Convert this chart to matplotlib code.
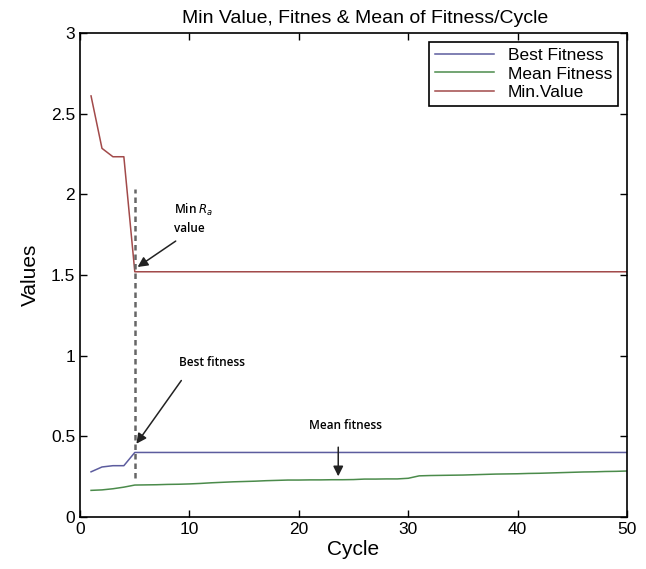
import numpy as np
import matplotlib
matplotlib.use("Agg")
import matplotlib.pyplot as plt

plt.rcParams["font.family"] = ["Liberation Sans", "DejaVu Sans"]

cycles = np.arange(1, 51)

min_value = [2.61, 2.285, 2.233, 2.233] + [1.52] * 46

best_fitness = [0.28, 0.31, 0.318, 0.318] + [0.40] * 46

mean_fitness = [
    0.165, 0.168, 0.175, 0.185, 0.198,
    0.199, 0.200, 0.202, 0.203,
    0.205, 0.208, 0.212, 0.215, 0.218,
    0.220, 0.222, 0.225, 0.227, 0.229, 0.229,
    0.230, 0.230, 0.231, 0.231, 0.232,
    0.235, 0.235, 0.236, 0.236,
    0.240,
    0.255,
    0.257, 0.258, 0.259, 0.260, 0.262, 0.264,
    0.266, 0.267, 0.268, 0.270, 0.271, 0.273, 0.275, 0.277,
    0.279, 0.280, 0.282, 0.283, 0.285,
]

fig = plt.figure(figsize=(6.46, 5.69), dpi=100)
ax = fig.add_axes([0.124, 0.0914, 0.8466, 0.8506])

ax.plot(cycles, best_fitness, color="#5c5c9e", lw=1.1, label="Best Fitness")
ax.plot(cycles, mean_fitness, color="#4b8b4b", lw=1.1, label="Mean Fitness")
ax.plot(cycles, min_value, color="#a24a4a", lw=1.1, label="Min.Value")

# dashed marker at the cycle where the minimum is reached
ax.plot([5, 5], [0.24, 2.03], color="#666666", lw=1.8, ls=(0, (2.2, 1.6)))

note_font = dict(family=["Open Sans", "DejaVu Sans"], fontsize=8.5, fontweight="semibold")
arrow = dict(arrowstyle="-|>", color="#222222", lw=1.1, mutation_scale=15)

ax.text(8.6, 1.85, "Min $R_a$\nvalue", ha="left", va="center", linespacing=1.45, **note_font)
ax.annotate("", xy=(5.05, 1.54), xytext=(8.95, 1.72), arrowprops=arrow)
ax.text(12.1, 0.955, "Best fitness", ha="center", va="center", **note_font)
ax.annotate("", xy=(5.0, 0.44), xytext=(9.4, 0.86), arrowprops=arrow)
ax.text(24.3, 0.565, "Mean fitness", ha="center", va="center", **note_font)
ax.annotate("", xy=(23.6, 0.235), xytext=(23.6, 0.45), arrowprops=arrow)

ax.set_xlim(0, 50)
ax.set_ylim(0, 3)
ax.set_xticks([0, 10, 20, 30, 40, 50])
ax.set_yticks([0, 0.5, 1, 1.5, 2, 2.5, 3])
ax.set_yticklabels(["0", "0.5", "1", "1.5", "2", "2.5", "3"])
ax.tick_params(direction="in", top=True, right=True, labelsize=12.5, length=5, width=1)
for s in ax.spines.values():
    s.set_linewidth(1.2)

ax.set_xlabel("Cycle", fontsize=15, labelpad=2)
ax.set_ylabel("Values", fontsize=15, labelpad=8)
ax.set_title("Min Value, Fitnes & Mean of Fitness/Cycle", fontsize=14, x=0.521, pad=7)

leg = ax.legend(loc="upper right", fontsize=12.5, fancybox=False, framealpha=1,
                edgecolor="black", handlelength=3.4, borderaxespad=0.5,
                labelspacing=0.2, borderpad=0.35)
leg.get_frame().set_linewidth(1.2)

fig.savefig("out.png", dpi=100)
